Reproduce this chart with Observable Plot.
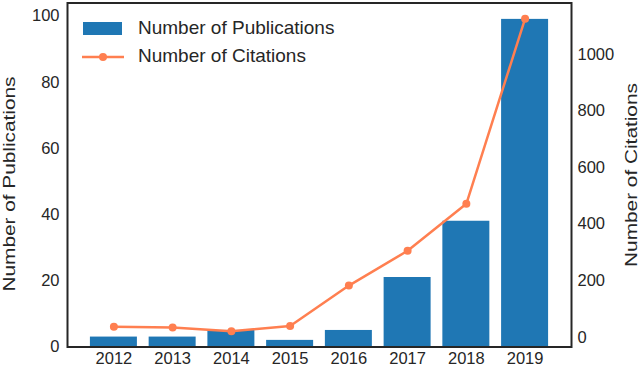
<!DOCTYPE html>
<html><head><meta charset="utf-8">
<script src="https://cdn.jsdelivr.net/npm/d3@7"></script>
<script src="https://cdn.jsdelivr.net/npm/@observablehq/plot@0.6"></script>
<style>
body{margin:0;background:#fff;}
#wrap{position:relative;width:640px;height:369px;overflow:hidden;font-family:"Liberation Sans",Arial,sans-serif;color:#262626;}
#wrap svg{display:block;}
.lg{position:absolute;font-size:19px;white-space:nowrap;line-height:1;}
.al{position:absolute;font-size:16px;line-height:1;white-space:nowrap;transform:translate(-50%,-50%) rotate(-90deg) scaleX(1.3);}
</style></head><body><div id="wrap"></div>
<script>
const years = ["2012","2013","2014","2015","2016","2017","2018","2019"];
const publications = [3,3,5,2,5,21,38,99];
const citations = [37,35,21,40,183,306,472,1127];
const pubTicks = [0,20,40,60,80,100];
const citeTicks = [0,200,400,600,800,1000];
const seriesNames = ["Number of Publications","Number of Citations"];
const barColor = "#1f77b4", lineColor = "#ff7f50", ink = "#262626";

const pubMax = d3.max(publications) * 1.05;
const cMin = d3.min(citations), cMax = d3.max(citations);
const cLo = cMin - 0.05*(cMax-cMin), cHi = cMax + 0.05*(cMax-cMin);
const toLeft = c => (c - cLo) / (cHi - cLo) * pubMax;
const fromLeft = v => v / pubMax * (cHi - cLo) + cLo;

const data = years.map((y,i)=>({i, year:y, pubs:publications[i], cites:citations[i]}));

const chart = Plot.plot({
  width: 640, height: 369,
  marginLeft: 67, marginRight: 69, marginTop: 2.5, marginBottom: 22.5,
  style: {fontFamily: '"Liberation Sans", Arial, sans-serif', fontSize: "16.5px", color: ink, background: "transparent"},
  x: {type: "linear", domain: [-0.79, 7.79]},
  y: {domain: [0, pubMax]},
  marks: [
    Plot.rectY(data, {x1: d => d.i - 0.4, x2: d => d.i + 0.4, y: "pubs", fill: barColor}),
    Plot.line(data, {x: "i", y: d => toLeft(d.cites), stroke: lineColor, strokeWidth: 2.5}),
    Plot.dot(data, {x: "i", y: d => toLeft(d.cites), r: 4, fill: lineColor, stroke: "none"}),
    Plot.axisX({ticks: d3.range(years.length), tickFormat: i => years[i], tickSize: 0, tickPadding: 5, label: null, fontSize: 16.5}),
    Plot.axisY({anchor: "left", ticks: pubTicks, tickSize: 0, tickPadding: 8, tickFormat: d => String(d), label: null, fontSize: 16.5}),
    Plot.axisY({anchor: "right", ticks: citeTicks.map(toLeft), tickFormat: v => String(Math.round(fromLeft(v))), tickSize: 0, tickPadding: 6, label: null, fontSize: 16.5}),
    Plot.frame({stroke: ink, strokeWidth: 2})
  ]
});
const wrap = document.getElementById("wrap");
wrap.appendChild(chart);

// axis titles
function axisTitle(text, cx, cy) {
  const d = document.createElement("div");
  d.className = "al"; d.textContent = text;
  d.style.left = cx + "px"; d.style.top = cy + "px";
  wrap.appendChild(d);
}
axisTitle(seriesNames[0], 9.5, 184);
axisTitle(seriesNames[1], 632, 175);

// legend
const sw = document.createElement("div");
sw.style.cssText = `position:absolute;left:83px;top:21.5px;width:39px;height:13px;background:${barColor};`;
wrap.appendChild(sw);
const t1 = document.createElement("div");
t1.className = "lg"; t1.textContent = seriesNames[0];
t1.style.left = "138px"; t1.style.top = "18px";
wrap.appendChild(t1);
const ls = d3.create("svg").attr("width", 44).attr("height", 12)
  .style("position","absolute").style("left","81px").style("top","51px");
ls.append("line").attr("x1",1).attr("x2",43).attr("y1",6).attr("y2",6).attr("stroke",lineColor).attr("stroke-width",2.5);
ls.append("circle").attr("cx",22).attr("cy",6).attr("r",4).attr("fill",lineColor);
wrap.appendChild(ls.node());
const t2 = document.createElement("div");
t2.className = "lg"; t2.textContent = seriesNames[1];
t2.style.left = "138px"; t2.style.top = "46px";
wrap.appendChild(t2);
</script>
</body></html>
